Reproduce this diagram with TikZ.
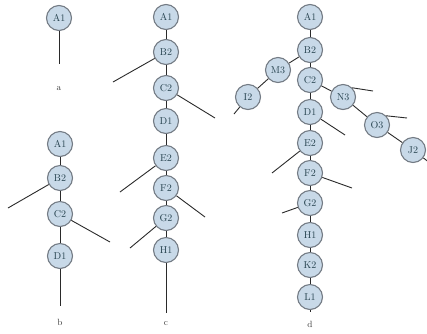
\documentclass[tikz,border=0pt]{standalone}
\usepackage{tikz}
\usetikzlibrary{automata,calc}
\definecolor{knotfill}{HTML}{C8D9E8}
\definecolor{knotline}{HTML}{737B84}
\definecolor{knottext}{HTML}{27434F}
\definecolor{stem}{HTML}{2A2A2A}
\tikzset{%
        -,
        x = 1pt,
        y = -1pt
}
\tikzstyle{every state}=[
    draw = knotline,
    fill = knotfill,
    text = knottext,
    line width = 1.1pt,
    minimum size = 25pt,
    inner sep = 0pt,
    font = \fontsize{10}{11}\selectfont
]
\tikzstyle{every edge}=[
    draw = stem,
    line width = 0.9pt
]
\tikzstyle{caption}=[font = \fontsize{9}{10}\selectfont, text = black!75]

\begin{document}
\begin{tikzpicture}
            \useasboundingbox (0, 0) rectangle (427, 333);
            % a
            \node[state] (aA1) at (59, 18) {A1};
            \coordinate (aend) at (59, 64);
            \node[caption] (acap) at (59, 89) {a};
            \path (aA1) edge (aend);
            % b
            \node[state] (bA1) at (60, 144) {A1};
            \node[state] (bB2) at (60, 178) {B2};
            \node[state] (bC2) at (60, 214) {C2};
            \node[state] (bD1) at (60, 256) {D1};
            \coordinate (bend) at (60, 306);
            \coordinate (bB2x) at (8, 208);
            \coordinate (bC2x) at (110, 242);
            \node[caption] (bcap) at (60, 322) {b};
            \path
                (bA1) edge (bB2)
                (bB2) edge (bC2)
                (bC2) edge (bD1)
                (bD1) edge (bend)
                (bB2) edge (bB2x)
                (bC2) edge (bC2x)
                ;
            % c
            \node[state] (cA1) at (166, 17) {A1};
            \node[state] (cB2) at (166, 52) {B2};
            \node[state] (cC2) at (166, 88) {C2};
            \node[state] (cD1) at (166, 121) {D1};
            \node[state] (cE2) at (166, 158) {E2};
            \node[state] (cF2) at (166, 188) {F2};
            \node[state] (cG2) at (166, 218) {G2};
            \node[state] (cH1) at (166, 250) {H1};
            \coordinate (cend) at (166, 313);
            \coordinate (cB2x) at (113, 82);
            \coordinate (cC2x) at (215, 118);
            \coordinate (cE2x) at (120, 192);
            \coordinate (cF2x) at (205, 217);
            \coordinate (cG2x) at (130, 248);
            \node[caption] (ccap) at (166, 324) {c};
            \path
                (cA1) edge (cB2)
                (cB2) edge (cC2)
                (cC2) edge (cD1)
                (cD1) edge (cE2)
                (cE2) edge (cF2)
                (cF2) edge (cG2)
                (cG2) edge (cH1)
                (cH1) edge (cend)
                (cB2) edge (cB2x)
                (cC2) edge (cC2x)
                (cE2) edge (cE2x)
                (cF2) edge (cF2x)
                (cG2) edge (cG2x)
                ;
            % d
            \node[state] (dA1) at (310, 17) {A1};
            \node[state] (dB2) at (310, 50) {B2};
            \node[state] (dC2) at (310, 80) {C2};
            \node[state] (dD1) at (310, 112) {D1};
            \node[state] (dE2) at (310, 143) {E2};
            \node[state] (dF2) at (310, 173) {F2};
            \node[state] (dG2) at (310, 203) {G2};
            \node[state] (dH1) at (310, 235) {H1};
            \node[state] (dK2) at (310, 265) {K2};
            \node[state] (dL1) at (310, 297) {L1};
            \node[state] (dM3) at (278, 70) {M3};
            \node[state] (dI2) at (248, 97) {I2};
            \node[state] (dN3) at (343, 97) {N3};
            \node[state] (dO3) at (377, 125) {O3};
            \node[state] (dJ2) at (413, 150) {J2};
            \coordinate (dend) at (310, 312);
            \coordinate (dI2x) at (234, 114);
            \coordinate (dN3x) at (373, 91);
            \coordinate (dO3x) at (407, 118);
            \coordinate (dJ2x) at (430, 163);
            \coordinate (dD1x) at (345, 135);
            \coordinate (dE2x) at (272, 173);
            \coordinate (dF2x) at (352, 188);
            \coordinate (dG2x) at (282, 213);
            \node[caption] (dcap) at (310, 324) {d};
            \path
                (dA1) edge (dB2)
                (dB2) edge (dC2)
                (dC2) edge (dD1)
                (dD1) edge (dE2)
                (dE2) edge (dF2)
                (dF2) edge (dG2)
                (dG2) edge (dH1)
                (dH1) edge (dK2)
                (dK2) edge (dL1)
                (dL1) edge (dend)
                (dB2) edge (dM3)
                (dM3) edge (dI2)
                (dC2) edge (dN3)
                (dN3) edge (dO3)
                (dO3) edge (dJ2)
                (dI2) edge (dI2x)
                (dN3.north east) edge (dN3x)
                (dO3.north east) edge (dO3x)
                (dJ2) edge (dJ2x)
                (dD1) edge (dD1x)
                (dE2) edge (dE2x)
                (dF2) edge (dF2x)
                (dG2) edge (dG2x)
                ;
        \end{tikzpicture}
\end{document}
